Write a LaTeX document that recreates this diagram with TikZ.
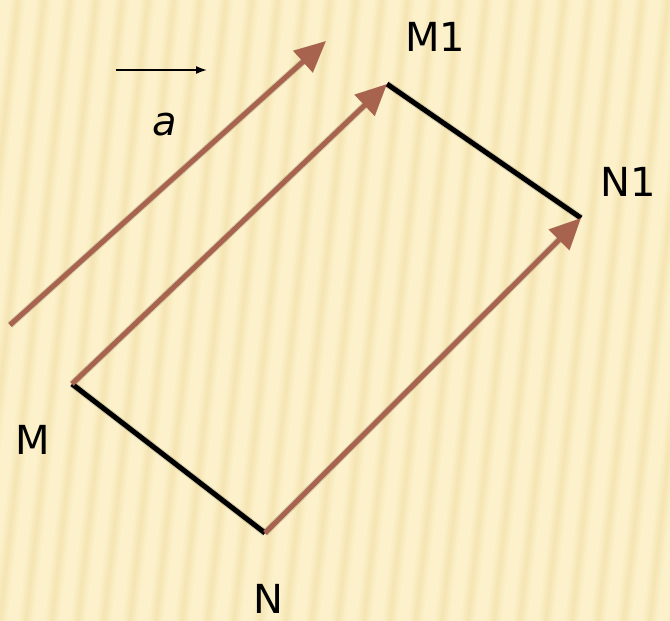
\documentclass[tikz,border=0pt]{standalone}
\usepackage{fontspec}
\setmainfont{DejaVu Sans}
\usetikzlibrary{arrows.meta}
\definecolor{bgl}{HTML}{FCF1CA}
\definecolor{bgd}{HTML}{EFD99C}
\definecolor{vec}{HTML}{A8634F}
\tikzset{
  lbl/.style={font=\fontsize{40}{40}\selectfont, text=black, inner sep=0pt},
  vecarrow/.style={draw=vec, line width=5pt, -{Triangle[length=31pt,width=28pt]}},
  seg/.style={draw=black, line width=5pt},
  shad/.style={draw=black, line width=7pt, opacity=0.15},
  shadarrow/.style={draw=black, line width=7pt, opacity=0.15, -{Triangle[length=31pt,width=28pt]}},
}
\begin{document}
\begin{tikzpicture}[x=1pt,y=-1pt]
\useasboundingbox (0,0) rectangle (670,621);
\fill[bgl] (0,0) rectangle (670,621);
\begin{scope}
\clip (0,0) rectangle (670,621);
\foreach \i in {-6,...,30} {
  \draw[bgd, line width=14pt, opacity=0.12] (\i*26+70,0) -- (\i*26,621);
  \draw[bgd, line width=9pt, opacity=0.18] (\i*26+70,0) -- (\i*26,621);
  \draw[bgd, line width=4pt, opacity=0.2] (\i*26+70,0) -- (\i*26,621);
}
\end{scope}
% points
\coordinate (M) at (72,384);
\coordinate (N) at (265,533);
\coordinate (M1) at (387,84);
\coordinate (N1) at (581,218);
\coordinate (A0) at (10,325);
\coordinate (A1) at (326,41);
\coordinate (S0) at (116,70);
\coordinate (S1) at (207,70);
% shadows
\begin{scope}[shift={(3,5)}]
\draw[shad] (M) -- (N);
\draw[shad] (M1) -- (N1);
\draw[shadarrow] (A0) -- (A1);
\draw[shadarrow] (M) -- (M1);
\draw[shadarrow] (N) -- (N1);
\end{scope}
% segments
\draw[seg] (M) -- (N);
\draw[seg] (M1) -- (N1);
% vectors
\draw[vecarrow] (A0) -- (A1);
\draw[vecarrow] (M) -- (M1);
\draw[vecarrow] (N) -- (N1);
% small vector a
\draw[black, line width=1.6pt, -{Latex[length=11pt,width=8pt]}] (S0) -- (S1);
\node[lbl, font=\fontsize{40}{40}\selectfont\itshape] (la) at (165,125) {a};
% labels
\node[lbl] (lM1) at (435,37) {M1};
\node[lbl] (lN1) at (628,182) {N1};
\node[lbl] (lM) at (33,440) {M};
\node[lbl] (lN) at (268,599) {N};
\end{tikzpicture}
\end{document}
